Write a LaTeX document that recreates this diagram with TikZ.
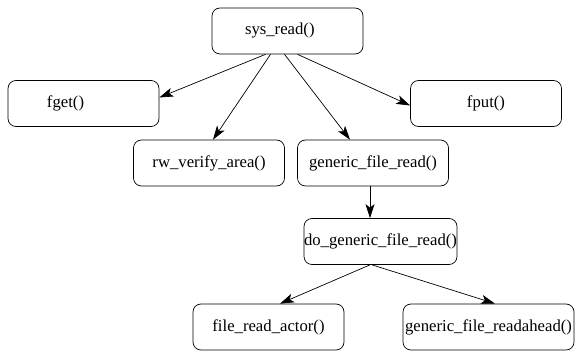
\documentclass[tikz,border=0pt]{standalone}
\usepackage{fontspec}
\setmainfont{Liberation Serif}
\usetikzlibrary{arrows.meta}
\begin{document}
\begin{tikzpicture}[x=1pt,y=-1pt,
func/.style={
% The shape:
rectangle,
draw=black,
line width=0.7pt,
rounded corners=8pt,
minimum width=151pt,
minimum height=46pt,
inner sep=0pt,
font=\fontsize{16.7}{18}\selectfont
},
call/.style={-{Stealth[length=14pt,width=9pt,inset=3.5pt]},line width=0.7pt}
]
\useasboundingbox (0,0) rectangle (585,352);
% First row:
\node (sysread) [func] at (287.5,31) {\makebox[151pt][l]{\hspace{33pt}sys\_read()}};
% Second row:
\node (fget) [func] at (83.5,103.5) {\makebox[151pt][l]{\hspace{39pt}fget()}};
\node (fput) [func] at (486,103.5) {fput()};
% Third row:
\node (rwverify) [func] at (209,163) {rw\_verify\_area()};
\node (gfread) [func] at (373,163) {generic\_file\_read()};
% Lower part:
\node (dogfread) [func,minimum width=153pt] at (380.5,241.5) {do\_generic\_file\_read()};
\node (actor) [func] at (268.5,327) {file\_read\_actor()};
\node (readahead) [func,minimum width=171pt] at (488.5,327) {generic\_file\_readahead()};
\path ([xshift=-22pt]sysread.south) edge[call] ([yshift=6pt]fget.east)
      ([xshift=-17pt]sysread.south) edge[call] ([xshift=4pt]rwverify.north)
      ([xshift=-3pt]sysread.south) edge[call] ([xshift=-23pt]gfread.north)
      ([xshift=10pt]sysread.south) edge[call] ([yshift=-2pt]fput.west)
      ([xshift=-3pt]gfread.south) edge[call] ([xshift=-10.5pt]dogfread.north)
      ([xshift=-10.5pt]dogfread.south) edge[call] ([xshift=11.5pt]actor.north)
      ([xshift=-8.5pt]dogfread.south) edge[call] ([xshift=6.5pt]readahead.north);
\end{tikzpicture}
\end{document}
